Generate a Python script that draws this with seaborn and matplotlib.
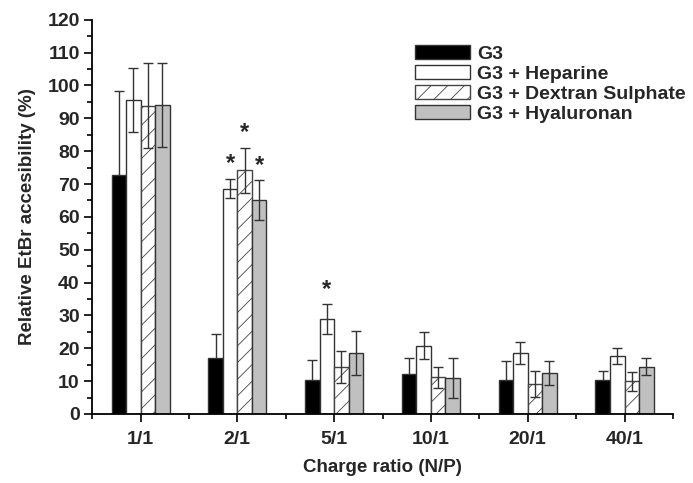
import numpy as np
import pandas as pd
import seaborn as sns
import matplotlib.pyplot as plt
from matplotlib.ticker import MultipleLocator, FixedLocator

# values (mean and error bar half-length)
ratios = ['1/1', '2/1', '5/1', '10/1', '20/1', '40/1']
groups = ['G3', 'G3 + Heparine', 'G3 + Dextran Sulphate', 'G3 + Hyaluronan']

g3 = [72.7, 17.0, 10.4, 12.3, 10.4, 10.4]
g3_err = [25.6, 7.2, 6.1, 4.7, 5.8, 2.8]
heparine = [95.6, 68.6, 28.9, 20.8, 18.5, 17.6]
heparine_err = [9.7, 3.0, 4.6, 4.0, 3.4, 2.4]
dextran = [93.8, 74.2, 14.2, 11.1, 9.2, 9.9]
dextran_err = [12.9, 6.9, 4.9, 3.1, 4.0, 3.0]
hyaluronan = [94.1, 65.1, 18.7, 10.9, 12.5, 14.4]
hyaluronan_err = [12.9, 6.1, 6.7, 6.0, 3.7, 2.6]

# bars marked as significant (*)
stars = [('2/1', 'G3 + Heparine'), ('2/1', 'G3 + Dextran Sulphate'),
         ('2/1', 'G3 + Hyaluronan'), ('5/1', 'G3 + Heparine')]

colors = ['#000000', '#ffffff', '#ffffff', '#c0c0c0']

means = [g3, heparine, dextran, hyaluronan]
errs = [g3_err, heparine_err, dextran_err, hyaluronan_err]
rows = []
for g, m, e in zip(groups, means, errs):
    for r, v, s in zip(ratios, m, e):
        rows.append({'ratio': r, 'group': g, 'value': v, 'err': s})
df = pd.DataFrame(rows)

sns.set_style('ticks')
plt.rcParams['font.family'] = ['Liberation Sans', 'DejaVu Sans']
plt.rcParams['font.weight'] = 'bold'
plt.rcParams['axes.labelweight'] = 'bold'
plt.rcParams['hatch.linewidth'] = 0.6

fig, ax = plt.subplots(figsize=(6.93, 4.83), dpi=100)
fig.subplots_adjust(left=0.133, right=0.971, top=0.959, bottom=0.143)

sns.barplot(data=df, x='ratio', y='value', hue='group', order=ratios,
            hue_order=groups, palette=colors, width=0.6, errorbar=None,
            edgecolor='#333333', linewidth=1, legend=False, ax=ax)

# hatch the dextran bars
for bar in ax.containers[2]:
    bar.set_hatch('//')
    bar.set_edgecolor('#444444')

# error bars + stars on top of each bar
for i, g in enumerate(groups):
    sub = df[df['group'] == g].set_index('ratio').loc[ratios]
    for bar, r in zip(ax.containers[i], ratios):
        x = bar.get_x() + bar.get_width() / 2
        v = sub.loc[r, 'value']
        e = sub.loc[r, 'err']
        # black bars hide the lower half of their error bar
        z = 0.5 if i == 0 else 3
        ax.errorbar(x, v, yerr=e, color='#333333', elinewidth=1,
                    capsize=3.5, capthick=1, zorder=z)
        if (r, g) in stars:
            ax.text(x, v + e + 1.0, '*', ha='center', va='bottom',
                    fontsize=17, fontweight='bold')

ax.legend(ax.containers, groups, loc='upper left',
          bbox_to_anchor=(0.556, 0.935), frameon=False, fontsize=14,
          handlelength=2.8, handleheight=0.68, labelspacing=0.13,
          handletextpad=0.4, borderpad=0, borderaxespad=0)

ax.set_ylim(0, 120)
ax.set_xlim(-0.5, 5.5)
ax.yaxis.set_major_locator(MultipleLocator(10))
ax.yaxis.set_minor_locator(MultipleLocator(5))
ax.xaxis.set_minor_locator(FixedLocator(np.arange(-0.5, 6, 1)))
ax.tick_params(which='major', direction='out', length=6, width=1.2,
               labelsize=14, color='black')
ax.tick_params(which='minor', direction='out', length=3.5, width=1.2,
               color='black')
ax.tick_params(axis='x', pad=6)
ax.tick_params(axis='y', pad=3)

ax.set_xlabel('Charge ratio (N/P)', fontsize=13.5, labelpad=8)
ax.set_ylabel('Relative EtBr accesibility (%)', fontsize=13.5, labelpad=8)

sns.despine(ax=ax)
for side in ['left', 'bottom']:
    ax.spines[side].set_linewidth(1.3)
    ax.spines[side].set_color('black')

fig.savefig('out.png', dpi=100)
